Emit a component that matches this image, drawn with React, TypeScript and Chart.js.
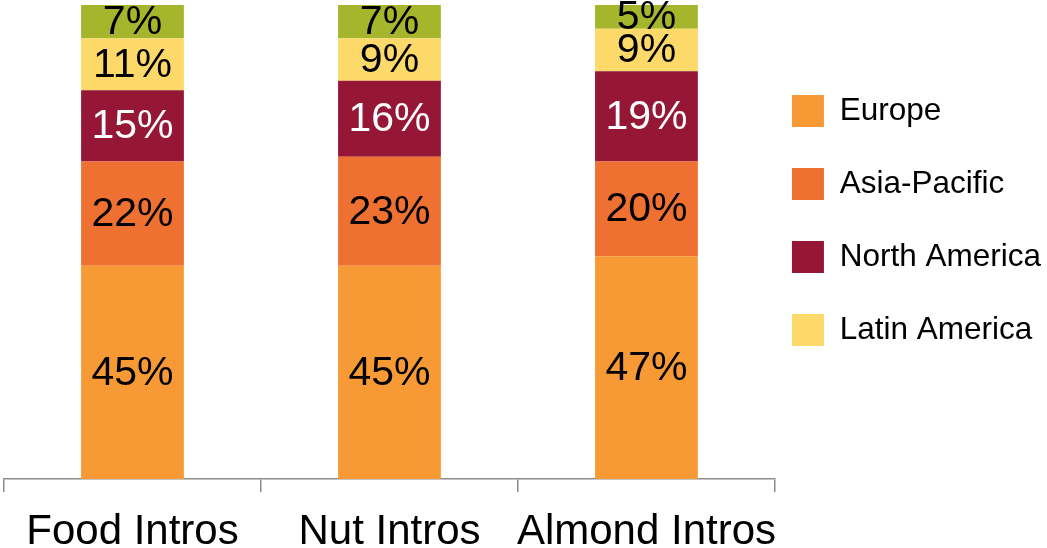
import React, { useEffect, useRef } from 'react';
import { Chart, registerables } from 'chart.js';

Chart.register(...registerables);

const categories = ['Food Intros', 'Nut Intros', 'Almond Intros'];
const europe = [45, 45, 47];
const asiaPacific = [22, 23, 20];
const northAmerica = [15, 16, 19];
const latinAmerica = [11, 9, 9];
const otherRegions = [7, 7, 5];

const seriesNames = ['Europe', 'Asia-Pacific', 'North America', 'Latin America', 'Middle East & Africa'];
const seriesColors = ['#F79A36', '#EF7131', '#961635', '#FDD96A', '#A5B62D'];
const labelColors = ['#000000', '#000000', '#FFFFFF', '#000000', '#000000'];
const legendCount = 4;

const FONT = '"Liberation Sans", Arial, Helvetica, sans-serif';

const valueLabels = {
  id: 'valueLabels',
  afterDatasetsDraw(chart: any) {
    const ctx = chart.ctx;
    ctx.save();
    ctx.font = '41px ' + FONT;
    ctx.textAlign = 'center';
    ctx.textBaseline = 'middle';
    chart.data.datasets.forEach((ds: any, i: number) => {
      const meta = chart.getDatasetMeta(i);
      meta.data.forEach((el: any, j: number) => {
        const p = el.getCenterPoint();
        ctx.fillStyle = labelColors[i];
        ctx.fillText(ds.data[j] + '%', p.x, p.y + 1);
      });
    });
    ctx.restore();
  },
};

export default function App() {
  const canvasRef = useRef<HTMLCanvasElement | null>(null);

  useEffect(() => {
    document.body.style.margin = '0';
    document.body.style.overflow = 'hidden';
    const seriesData = [europe, asiaPacific, northAmerica, latinAmerica, otherRegions];
    const chart = new Chart(canvasRef.current as HTMLCanvasElement, {
      type: 'bar',
      data: {
        labels: categories,
        datasets: seriesData.map((d, i) => ({
          label: seriesNames[i],
          data: d,
          backgroundColor: seriesColors[i],
          borderWidth: 0,
          barPercentage: 0.4,
          categoryPercentage: 1,
        })),
      },
      options: {
        animation: false,
        responsive: true,
        maintainAspectRatio: false,
        layout: { padding: { top: 5, left: 4, right: -4, bottom: 0 } },
        scales: {
          x: {
            stacked: true,
            offset: true,
            afterFit: (scale: any) => {
              scale.height = 69;
            },
            grid: {
              display: true,
              offset: true,
              drawOnChartArea: false,
              drawTicks: true,
              tickLength: 13,
              color: '#8C8C8C',
              lineWidth: 1.5,
            },
            border: { display: true, color: '#8C8C8C', width: 1.5 },
            ticks: {
              color: '#000000',
              padding: 20,
              autoSkip: false,
              maxRotation: 0,
              minRotation: 0,
              font: { family: FONT, size: 42, lineHeight: '40px' },
            },
          },
          y: {
            stacked: true,
            display: false,
            min: 0,
            max: 100,
          },
        },
        plugins: {
          tooltip: { enabled: false },
          legend: {
            position: 'right',
            align: 'start',
            title: { display: true, text: '', font: { size: 10, lineHeight: '73px' }, padding: 0 },
            labels: {
              boxWidth: 32,
              boxHeight: 32,
              padding: 17,
              color: '#000000',
              font: { family: FONT, size: 31.5, lineHeight: '56px' },
              generateLabels: (c: any) =>
                (Chart.defaults.plugins.legend.labels.generateLabels as any)(c)
                  .filter((l: any) => l.datasetIndex < legendCount)
                  .map((l: any) => ({ ...l, text: [l.text], lineWidth: 0 })),
            },
          },
        },
      },
      plugins: [valueLabels],
    } as any);
    return () => chart.destroy();
  }, []);

  return (
    <div style={{ position: 'relative', width: '1047px', height: '548px' }}>
      <canvas ref={canvasRef} />
    </div>
  );
}
